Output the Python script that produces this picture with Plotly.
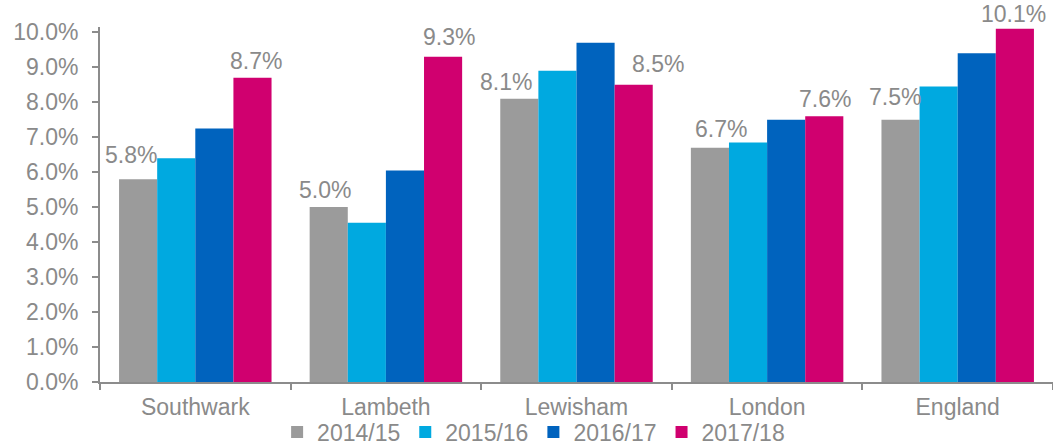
import plotly.graph_objects as go

# Areas compared
areas = ["Southwark", "Lambeth", "Lewisham", "London", "England"]

# Rate (%) by year
years = ["2014/15", "2015/16", "2016/17", "2017/18"]
v_2014_15 = [5.8, 5.0, 8.1, 6.7, 7.5]
v_2015_16 = [6.4, 4.55, 8.9, 6.85, 8.45]
v_2016_17 = [7.25, 6.05, 9.7, 7.5, 9.4]
v_2017_18 = [8.7, 9.3, 8.5, 7.6, 10.1]

series = [v_2014_15, v_2015_16, v_2016_17, v_2017_18]
colors = ["#9b9b9b", "#00a9e0", "#0063be", "#d0006f"]

y_ticks = [i for i in range(0, 11)]
y_tick_text = [f"{t:.1f}%" for t in y_ticks]
y_max = 10.15

# Value labels are shown for the first and last year only; small pixel
# nudges (dx, dy) keep them clear of neighbouring bars.
label_series = [0, 3]
label_nudge = {
    0: [(-7, 9), (-4, 2), (-13, 2), (11, 4), (-6, 8)],
    3: [(4, 2), (6, 5), (24, 6), (1, 2), (-1, 0)],
}

FONT = "Arial, Liberation Sans, sans-serif"
GREY_TXT = "#8a8a8a"
AXIS = "#8c8c8c"

fig = go.Figure()
for name, vals, col in zip(years, series, colors):
    fig.add_trace(go.Bar(
        x=areas, y=vals, name=name,
        marker=dict(color=col, line=dict(width=0)),
        cliponaxis=False,
    ))

n_series = len(series)
group_width = 0.8  # 1 - bargap
bar_w = group_width / n_series
for k in label_series:
    vals = series[k]
    offset = (k - (n_series - 1) / 2) * bar_w
    for i, v in enumerate(vals):
        dx, dy = label_nudge[k][i]
        fig.add_annotation(
            x=i + offset, y=v, xref="x", yref="y",
            text=f"{v:.1f}%", showarrow=False,
            xanchor="center", yanchor="bottom",
            xshift=dx, yshift=dy,
            font=dict(size=23, color=GREY_TXT, family=FONT),
        )

fig.update_layout(
    width=1053, height=445,
    margin=dict(l=100, r=0, t=27, b=63, autoexpand=False),
    paper_bgcolor="white", plot_bgcolor="white",
    barmode="group", bargap=0.2, bargroupgap=0,
    font=dict(family=FONT, size=23, color=GREY_TXT),
    showlegend=True,
    legend=dict(orientation="h", x=0.455, xanchor="center", y=-0.141, yanchor="middle",
                bgcolor="rgba(0,0,0,0)",
                font=dict(size=23, color=GREY_TXT), itemwidth=30,
                traceorder="normal"),
)
fig.update_yaxes(
    range=[0, y_max], tickvals=y_ticks, ticktext=y_tick_text,
    showgrid=False, zeroline=False,
    showline=True, linecolor=AXIS, linewidth=2,
    ticks="outside", ticklen=6, tickcolor=AXIS, tickwidth=2,
    ticklabelstandoff=9,
    tickfont=dict(size=23, color=GREY_TXT),
)
fig.update_xaxes(
    showgrid=False, showline=True, linecolor=AXIS, linewidth=2,
    ticks="outside", ticklen=6, tickcolor=AXIS, tickwidth=2,
    tickson="boundaries", ticklabelstandoff=3,
    tickfont=dict(size=23, color=GREY_TXT),
)

fig.write_html("out.html")
